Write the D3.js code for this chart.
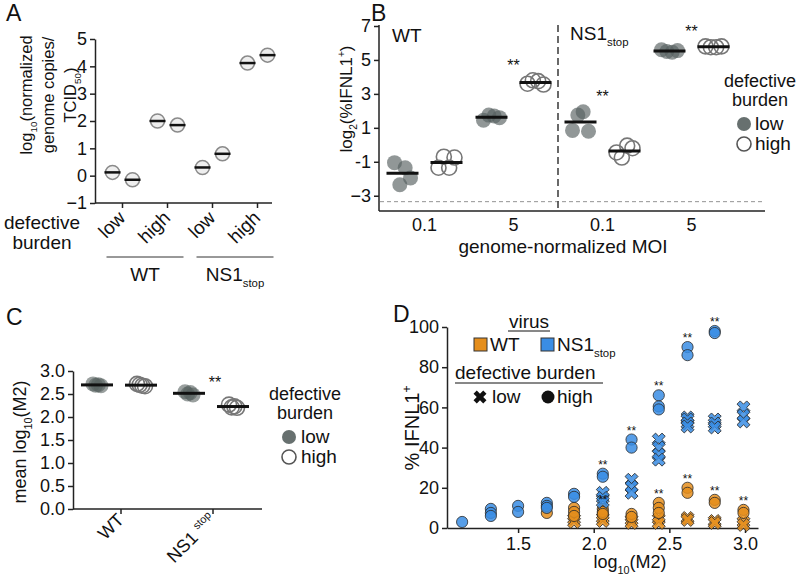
<!DOCTYPE html>
<html><head><meta charset="utf-8">
<script src="https://cdn.jsdelivr.net/npm/d3@7"></script>
<style>
body{margin:0;background:#fff}
svg{display:block}
text{font-family:"Liberation Sans",Arial,Helvetica,sans-serif;fill:#111}
</style>
</head><body>
<svg id="chart" width="800" height="581"></svg>
<script>
// ---------------- DATA ----------------
// Panel A
const aCategories = ["WT low", "WT high", "NS1 low", "NS1 high"];
const aBurdenLabels = ["low", "high", "low", "high"];
const aValues = [[0.12, -0.15], [2.0, 1.85], [0.3, 0.8], [4.12, 4.41]];
const aTicks = [-1, 0, 1, 2, 3, 4, 5];

// Panel B
const bGroups = ["WT 0.1", "WT 5", "NS1 0.1", "NS1 5"];
const bTickLabels = ["0.1", "5", "0.1", "5"];
const bLow = [[-1.05, -2.35, -1.35, -1.95], [1.45, 1.75, 1.7, 1.6], [0.85, 1.75, 1.95, 0.8], [5.6, 5.5, 5.45, 5.55]];
const bHigh = [[-1.35, -0.7, -1.35, -0.75], [3.6, 3.8, 3.75, 3.55], [-0.45, -0.75, -0.05, -0.2], [5.8, 5.75, 5.75, 5.8]];
const bSignif = ["WT 5", "NS1 0.1", "NS1 5"];
const bTicks = [-3, -1, 1, 3, 5, 7];
const bYTickLabels = ["\u22123", "-1", "1", "3", "5", "7"];
const bDetectionLimit = -3.35;

// Panel C
const cGroups = ["WT", "NS1stop"];
const cLow = [[2.72, 2.69, 2.70, 2.68], [2.55, 2.50, 2.53, 2.48]];
const cHigh = [[2.72, 2.70, 2.68, 2.67], [2.27, 2.21, 2.23, 2.20]];
const cSignif = ["NS1stop"];
const cTicks = [0, 0.5, 1, 1.5, 2, 2.5, 3];

// Panel D
const dBins = [1.13, 1.32, 1.50, 1.69, 1.87, 2.06, 2.25, 2.43, 2.62, 2.80, 2.99];
const dNs1High = [[3], [9.5, 7.5, 6], [11, 8], [12.5, 11, 10], [17, 15.5], [27, 25.5], [44, 40], [66, 60.5, 59], [90, 86], [98, 97], []];
const dNs1Low = [[], [], [], [], [], [17.5, 15, 13], [24, 20.5, 17.5], [44, 40, 36.5, 34], [55, 54, 52, 50.5], [54, 52, 50], [60, 56, 53]];
const dWtHigh = [[], [], [], [7.5], [10, 8, 6], [9.5, 8, 7], [7, 5.5], [12.5, 10, 7.5], [20, 17.5], [14, 12.5], [9, 7.5]];
const dWtLow = [[], [], [], [], [4.5, 3], [5, 3.5], [4, 2.5], [4.5, 2.5], [5, 4], [3.5, 2.5], [3, 1.5]];
const dSigNs1 = [2.06, 2.25, 2.43, 2.62, 2.80];
const dSigWt = [2.06, 2.43, 2.62, 2.80, 2.99];
const dYTicks = [0, 20, 40, 60, 80, 100];
const dXTicks = [1.5, 2.0, 2.5, 3.0];

// ---------------- HELPERS ----------------
const svg = d3.select("#chart");
const BLUE = "#3a8de4", ORANGE = "#e58e1c";
const GRAY_FILL = "#56605f";

function rich(sel, parts, size) {
  let shift = 0;
  parts.forEach(p => {
    const [s, t] = typeof p === "string" ? [p, ""] : p;
    const target = t === "sub" ? size * 0.32 : t === "sup" ? -size * 0.42 : 0;
    sel.append("tspan").attr("dy", target - shift)
      .attr("font-size", t ? size * 0.6 : size).text(s);
    shift = target;
  });
  return sel;
}
function txt(g, x, y, parts, size, anchor, transform) {
  const t = g.append("text").attr("x", x).attr("y", y)
    .attr("font-size", size).attr("text-anchor", anchor || "start");
  if (transform) t.attr("transform", transform);
  rich(t, parts, size);
  return t;
}
function styleAxis(g, fs) {
  g.selectAll("path.domain").attr("stroke", "#222").attr("stroke-width", 1.5);
  g.selectAll(".tick line").attr("stroke", "#222").attr("stroke-width", 1.5);
  g.selectAll(".tick text").attr("font-size", fs).attr("fill", "#111")
    .attr("font-family", '"Liberation Sans",Arial,sans-serif');
}

// Panel letters
[["A", 6, 21], ["B", 371, 21], ["C", 6, 325], ["D", 393, 322]].forEach(([l, x, y]) =>
  svg.append("text").attr("x", x).attr("y", y).attr("font-size", 23).text(l));

// ---------------- PANEL A ----------------
{
  const g = svg.append("g");
  const y = d3.scaleLinear().domain([-1, 5]).range([203, 39]);
  const x = d3.scaleBand().domain(aCategories).range([100, 280]);
  const j = d3.scalePoint().domain([0, 1]).range([-10, 10]);
  const cx = c => x(c) + x.bandwidth() / 2;

  const ya = g.append("g").attr("transform", "translate(95,0)")
    .call(d3.axisLeft(y).tickValues(aTicks).tickSize(5).tickSizeOuter(0).tickPadding(3)
      .tickFormat(d => d < 0 ? "\u2212" + Math.abs(d) : d));
  styleAxis(ya, 18);
  const xa = g.append("g").attr("transform", "translate(0,203)")
    .call(d3.axisBottom(x).tickSize(5).tickSizeOuter(0).tickFormat(""));
  styleAxis(xa, 17);
  xa.select("path.domain").remove();
  g.append("line").attr("x1", 95).attr("x2", 272).attr("y1", 203).attr("y2", 203)
    .attr("stroke", "#222").attr("stroke-width", 1.5);

  aCategories.forEach((c, i) => {
    aValues[i].forEach((v, k) => {
      const px = cx(c) + j(k), py = y(v);
      g.append("circle").attr("cx", px).attr("cy", py).attr("r", 7)
        .attr("fill", "#cfcfcf").attr("fill-opacity", 0.35)
        .attr("stroke", "#8a8a8a").attr("stroke-width", 1.5);
      g.append("line").attr("x1", px - 8).attr("x2", px + 8).attr("y1", py).attr("y2", py)
        .attr("stroke", "#111").attr("stroke-width", 2.5);
    });
    g.append("text").attr("font-size", 19).attr("text-anchor", "end")
      .attr("transform", `translate(${cx(c) + 4},219) rotate(-45)`).text(aBurdenLabels[i]);
  });
  // group underlines
  [[0, 1, ["WT"]], [2, 3, ["NS1", ["stop", "sub"]]]].forEach(([a, b, lab]) => {
    const x1 = cx(aCategories[a]) - 16, x2 = cx(aCategories[b]) + 16;
    g.append("line").attr("x1", x1).attr("x2", x2).attr("y1", 257).attr("y2", 257)
      .attr("stroke", "#333").attr("stroke-width", 1);
    txt(g, (x1 + x2) / 2, 281, lab, 19, "middle");
  });
  txt(g, 42, 229, ["defective"], 19, "middle");
  txt(g, 42, 249, ["burden"], 19, "middle");
  // y label
  [[32, ["log", ["10", "sub"], "(normalized"]], [54, ["genome copies/"]], [76, ["TCID", ["50", "sub"], ")"]]]
    .forEach(([bx, parts]) => txt(g, 0, 0, parts, 16.5, "middle", `translate(${bx},95) rotate(-90)`));
}

// ---------------- PANEL B ----------------
{
  const g = svg.append("g");
  const y = d3.scaleLinear().domain([-3.9, 7]).range([211, 26]);
  const x = d3.scaleBand().domain(bGroups).range([380, 736]);
  const sub = d3.scalePoint().domain(["low", "high"]).range([-22, 22]);
  const j = d3.scalePoint().domain([0, 1, 2, 3]).range([-8, 8]);
  const cx = c => x(c) + x.bandwidth() / 2;

  const ya = g.append("g").attr("transform", "translate(379,0)")
    .call(d3.axisLeft(y).tickValues(bTicks).tickSize(5).tickSizeOuter(0).tickPadding(3)
      .tickFormat((d, i) => bYTickLabels[i]));
  styleAxis(ya, 18);
  ya.select("path.domain").remove();
  g.append("line").attr("x1", 379).attr("x2", 379).attr("y1", y(7) - 1).attr("y2", 211)
    .attr("stroke", "#222").attr("stroke-width", 1.5);
  g.append("line").attr("x1", 379).attr("x2", 765).attr("y1", 211).attr("y2", 211)
    .attr("stroke", "#222").attr("stroke-width", 1.5);
  bGroups.forEach((c, i) => txt(g, cx(c), 231, [bTickLabels[i]], 18, "middle"));

  // detection limit & divider
  g.append("line").attr("x1", 380).attr("x2", 765).attr("y1", y(bDetectionLimit)).attr("y2", y(bDetectionLimit))
    .attr("stroke", "#777").attr("stroke-width", 0.8).attr("stroke-dasharray", "4,3");
  const divX = (cx(bGroups[1]) + cx(bGroups[2])) / 2;
  g.append("line").attr("x1", divX).attr("x2", divX).attr("y1", y(7) - 1).attr("y2", 211)
    .attr("stroke", "#444").attr("stroke-width", 1.6).attr("stroke-dasharray", "7,4");

  bGroups.forEach((c, i) => {
    [["low", bLow[i]], ["high", bHigh[i]]].forEach(([b, vals]) => {
      const bx = cx(c) + sub(b);
      vals.forEach((v, k) => {
        const ci = g.append("circle").attr("cx", bx + j(k)).attr("cy", y(v)).attr("r", 7.5);
        if (b === "low") ci.attr("fill", GRAY_FILL).attr("fill-opacity", 0.65);
        else ci.attr("fill", "none").attr("stroke", "#777").attr("stroke-width", 1.6);
      });
      const m = d3.mean(vals);
      g.append("line").attr("x1", bx - 16).attr("x2", bx + 16).attr("y1", y(m)).attr("y2", y(m))
        .attr("stroke", "#111").attr("stroke-width", 3);
    });
    if (bSignif.includes(c)) {
      const mx = d3.max(bLow[i].concat(bHigh[i]));
      txt(g, cx(c), y(mx + 1.1) + 9, ["**"], 16, "middle");
    }
  });
  txt(g, 392, 42, ["WT"], 19, "start");
  txt(g, 570, 40, ["NS1", ["stop", "sub"]], 19, "start");
  txt(g, 563, 253, ["genome-normalized MOI"], 19, "middle");
  txt(g, 0, 0, ["log", ["2", "sub"], "(%IFNL1", ["+", "sup"], ")"], 17, "middle", "translate(352,99) rotate(-90)");
  // legend
  txt(g, 760, 87, ["defective"], 18, "middle");
  txt(g, 760, 106, ["burden"], 18, "middle");
  g.append("circle").attr("cx", 744).attr("cy", 124).attr("r", 7).attr("fill", GRAY_FILL).attr("fill-opacity", 0.9);
  txt(g, 755, 130, ["low"], 19, "start");
  g.append("circle").attr("cx", 744).attr("cy", 144).attr("r", 7).attr("fill", "none").attr("stroke", "#555").attr("stroke-width", 1.6);
  txt(g, 755, 150, ["high"], 19, "start");
}

// ---------------- PANEL C ----------------
{
  const g = svg.append("g");
  const y = d3.scaleLinear().domain([0, 3]).range([509, 371]);
  const x = d3.scaleBand().domain(cGroups).range([75, 259]);
  const sub = d3.scalePoint().domain(["low", "high"]).range([-24, 20]);
  const j = d3.scalePoint().domain([0, 1, 2, 3]).range([-4, 4]);
  const cx = c => x(c) + x.bandwidth() / 2;

  const ya = g.append("g").attr("transform", "translate(73,0)")
    .call(d3.axisLeft(y).tickValues(cTicks).tickSize(5).tickSizeOuter(0).tickPadding(3).tickFormat(d3.format(".1f")));
  styleAxis(ya, 18);
  const xa = g.append("g").attr("transform", "translate(0,509)")
    .call(d3.axisBottom(x).tickSize(5).tickSizeOuter(0).tickFormat(""));
  styleAxis(xa, 17);
  xa.select("path.domain").remove();
  g.append("line").attr("x1", 73).attr("x2", 262).attr("y1", 509).attr("y2", 509)
    .attr("stroke", "#222").attr("stroke-width", 1.5);

  cGroups.forEach((c, i) => {
    [["low", cLow[i]], ["high", cHigh[i]]].forEach(([b, vals]) => {
      const bx = cx(c) + sub(b);
      vals.forEach((v, k) => {
        const ci = g.append("circle").attr("cx", bx + j(k)).attr("cy", y(v)).attr("r", 7.5);
        if (b === "low") ci.attr("fill", GRAY_FILL).attr("fill-opacity", 0.6);
        else ci.attr("fill", "none").attr("stroke", "#777").attr("stroke-width", 1.6);
      });
      const m = d3.mean(vals);
      g.append("line").attr("x1", bx - 16).attr("x2", bx + 16).attr("y1", y(m)).attr("y2", y(m))
        .attr("stroke", "#111").attr("stroke-width", 3);
    });
    if (cSignif.includes(c)) {
      const mx = d3.max(cLow[i].concat(cHigh[i]));
      txt(g, cx(c) + 2, y(mx + 0.27) + 9, ["**"], 16, "middle");
    }
  });
  txt(g, 0, 0, ["WT"], 18, "end", `translate(${cx("WT") + 4},521) rotate(-45)`);
  txt(g, 0, 0, ["NS1 ", ["stop", "sup"]], 18, "end", `translate(${cx("NS1stop") + 4},521) rotate(-45)`);
  txt(g, 0, 0, ["mean log", ["10", "sub"], "(M2)"], 18, "middle", "translate(26,442) rotate(-90)");
  // legend
  txt(g, 305, 400, ["defective"], 18, "middle");
  txt(g, 305, 419, ["burden"], 18, "middle");
  g.append("circle").attr("cx", 289).attr("cy", 437).attr("r", 7).attr("fill", GRAY_FILL).attr("fill-opacity", 0.9);
  txt(g, 301, 443, ["low"], 19, "start");
  g.append("circle").attr("cx", 289).attr("cy", 457).attr("r", 7).attr("fill", "none").attr("stroke", "#555").attr("stroke-width", 1.6);
  txt(g, 301, 463, ["high"], 19, "start");
}

// ---------------- PANEL D ----------------
{
  const g = svg.append("g");
  const y = d3.scaleLinear().domain([0, 100]).range([528, 327]);
  const x = d3.scaleLinear().domain([1.03, 3.086]).range([447, 758]);

  const ya = g.append("g").attr("transform", "translate(447,0)")
    .call(d3.axisLeft(y).tickValues(dYTicks).tickSize(5).tickSizeOuter(0).tickPadding(3));
  styleAxis(ya, 18);
  const xa = g.append("g").attr("transform", "translate(0,528)")
    .call(d3.axisBottom(x).tickValues(dXTicks).tickSize(5).tickSizeOuter(0).tickPadding(4).tickFormat(d3.format(".1f")));
  styleAxis(xa, 18);

  const cross = d3.symbol().type(d3.symbolCross).size(105);
  const dot = (px, py, col) => g.append("circle").attr("cx", px).attr("cy", py).attr("r", 5.6)
    .attr("fill", col).attr("fill-opacity", 0.85).attr("stroke", "#2a2a2a").attr("stroke-width", 0.8);
  const xmark = (px, py, col) => g.append("path").attr("d", cross())
    .attr("transform", `translate(${px},${py}) rotate(45)`)
    .attr("fill", col).attr("fill-opacity", 0.85).attr("stroke", "#2a2a2a").attr("stroke-width", 0.8);

  const series = [[dWtLow, ORANGE, xmark], [dWtHigh, ORANGE, dot], [dNs1Low, BLUE, xmark], [dNs1High, BLUE, dot]];
  series.forEach(([data, col, fn]) => data.forEach((vals, i) => vals.forEach(v => fn(x(dBins[i]), y(v), col))));

  const stars = (sig, arrs) => sig.forEach(b => {
    const i = dBins.indexOf(b);
    const mx = d3.max(arrs.flatMap(a => a[i]));
    txt(g, x(b), y(mx) - 5, ["**"], 12, "middle");
  });
  stars(dSigNs1, [dNs1High]);
  stars(dSigWt, [dWtHigh]);

  txt(g, 630, 568, ["log", ["10", "sub"], "(M2)"], 18, "middle");
  txt(g, 0, 0, ["% IFNL1", ["+", "sup"]], 20, "middle", "translate(419,428) rotate(-90)");

  // legend
  txt(g, 529, 328, ["virus"], 19, "middle");
  g.append("line").attr("x1", 508).attr("x2", 550).attr("y1", 331).attr("y2", 331).attr("stroke", "#111").attr("stroke-width", 1);
  g.append("rect").attr("x", 474).attr("y", 338).attr("width", 13).attr("height", 13).attr("fill", ORANGE).attr("stroke", "#333").attr("stroke-width", 1);
  txt(g, 490, 351, ["WT"], 19, "start");
  g.append("rect").attr("x", 541).attr("y", 338).attr("width", 13).attr("height", 13).attr("fill", BLUE).attr("stroke", "#333").attr("stroke-width", 1);
  txt(g, 557, 351, ["NS1", ["stop", "sub"]], 19, "start");
  txt(g, 455, 379, ["defective burden"], 19, "start");
  g.append("line").attr("x1", 455).attr("x2", 603).attr("y1", 383).attr("y2", 383).attr("stroke", "#111").attr("stroke-width", 1);
  g.append("path").attr("d", cross()).attr("transform", "translate(480,397) rotate(45)").attr("fill", "#111");
  txt(g, 492, 403, ["low"], 19, "start");
  g.append("circle").attr("cx", 548).attr("cy", 397).attr("r", 6.5).attr("fill", "#111");
  txt(g, 557, 403, ["high"], 19, "start");
}
</script>
</body></html>
